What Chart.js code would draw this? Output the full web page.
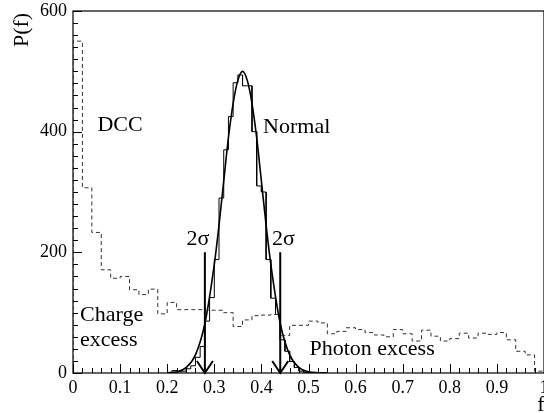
<!DOCTYPE html>
<html><head><meta charset="utf-8">
<script src="https://cdn.jsdelivr.net/npm/chart.js@4/dist/chart.umd.min.js"></script>
<style>html,body{margin:0;padding:0;background:#fff;overflow:hidden}#wrap{width:544px;height:413px;position:relative}</style>
</head><body><div id="wrap"><canvas id="c" width="544" height="413"></canvas></div>
<script>
// ---- data ----
const dccStart = 0.0;
const dccBinWidth = 0.02;
const dccCounts = [550, 307, 233, 171, 157, 160, 138, 130, 139, 98,
                   117, 105, 105, 105, 104, 104, 100, 77, 88, 95,
                   96, 97, 62, 79, 79, 86, 83, 65, 69, 75,
                   72, 67, 63, 60, 72, 65, 53, 71, 61, 53,
                   57, 66, 58, 66, 64, 67, 55, 36, 30, 3];
const normalStart = 0.21;
const normalBinWidth = 0.01;
const normalCounts = [4, 2, 3, 7, 12, 26, 44, 86, 125, 188,
                      290, 370, 425, 481, 494, 476, 476, 400, 310, 300,
                      188, 124, 97, 55, 36, 19, 9, 3, 1];
const fitF = [0.20, 0.22, 0.24, 0.26, 0.28, 0.30, 0.31, 0.32, 0.33, 0.34, 0.35, 0.36,
              0.37, 0.38, 0.39, 0.40, 0.41, 0.42, 0.44, 0.46, 0.48, 0.50, 0.52, 0.54];
const fitP = [0.3, 2, 9, 30, 82, 180, 245, 318, 390, 447, 485, 500,
              485, 447, 390, 318, 245, 180, 82, 30, 9, 2, 0.5, 0];
const xTickValues = [0, 0.1, 0.2, 0.3, 0.4, 0.5, 0.6, 0.7, 0.8, 0.9, 1];
const yTickValues = [0, 200, 400, 600];
const arrowF = [0.28, 0.44];
const arrowTop = 200;

// ---- annotation layout (data coordinates) ----
const notes = [
  {text: 'DCC', f: 0.10, p: 410, align: 'center'},
  {text: 'Normal', f: 0.475, p: 408, align: 'center'},
  {text: '2σ', f: 0.265, p: 222, align: 'center'},
  {text: '2σ', f: 0.447, p: 222, align: 'center'},
  {text: 'Charge', f: 0.015, p: 95, align: 'left'},
  {text: 'excess', f: 0.015, p: 55, align: 'left'},
  {text: 'Photon excess', f: 0.502, p: 40, align: 'left'}
];

function histPoints(start, w, counts) {
  const pts = [{x: start, y: 0}];
  counts.forEach((c, i) => {
    pts.push({x: start + i * w, y: c});
    pts.push({x: start + (i + 1) * w, y: c});
  });
  pts.push({x: start + counts.length * w, y: 0});
  return pts;
}

const SERIF = '"Liberation Serif", "DejaVu Serif", serif';

const decor = {
  id: 'decor',
  afterDatasetsDraw(chart) {
    const ctx = chart.ctx, xs = chart.scales.x, ys = chart.scales.y, a = chart.chartArea;
    ctx.save();
    // frame
    ctx.strokeStyle = '#000';
    ctx.lineWidth = 1.2;
    ctx.strokeRect(a.left, a.top, a.right - a.left, a.bottom - a.top);
    // inward ticks
    ctx.lineWidth = 1;
    ctx.beginPath();
    for (let i = 0; i <= 50; i++) {
      const v = i * 0.02;
      const px = Math.round(xs.getPixelForValue(v)) + 0.5;
      const len = (i % 5 === 0) ? 9 : 5;
      ctx.moveTo(px, a.bottom); ctx.lineTo(px, a.bottom - len);
    }
    for (let i = 0; i <= 30; i++) {
      const v = i * 20;
      const py = Math.round(ys.getPixelForValue(v)) + 0.5;
      const len = (i % 10 === 0) ? 9 : 5;
      ctx.moveTo(a.left, py); ctx.lineTo(a.left + len, py);
    }
    ctx.stroke();
    // arrows
    ctx.lineWidth = 2;
    arrowF.forEach(f => {
      const px = xs.getPixelForValue(f);
      const top = ys.getPixelForValue(arrowTop);
      const bot = ys.getPixelForValue(0);
      ctx.beginPath();
      ctx.moveTo(px, top); ctx.lineTo(px, bot);
      ctx.moveTo(px - 8, bot - 12); ctx.lineTo(px, bot); ctx.lineTo(px + 8, bot - 12);
      ctx.stroke();
    });
    // notes
    ctx.fillStyle = '#000';
    ctx.font = '22px ' + SERIF;
    ctx.textBaseline = 'middle';
    notes.forEach(n => {
      ctx.textAlign = n.align;
      ctx.fillText(n.text, xs.getPixelForValue(n.f), ys.getPixelForValue(n.p));
    });
    // axis titles
    ctx.textAlign = 'center';
    ctx.fillText('f', 541, 405);
    ctx.translate(22, 30);
    ctx.rotate(-Math.PI / 2);
    ctx.fillText('P(f)', 0, 0);
    ctx.restore();
  }
};

new Chart(document.getElementById('c'), {
  type: 'line',
  data: {
    datasets: [
      {label: 'DCC', data: histPoints(dccStart, dccBinWidth, dccCounts),
       borderColor: '#333', borderWidth: 1, borderDash: [4, 3], pointRadius: 0, tension: 0, fill: false},
      {label: 'Normal', data: histPoints(normalStart, normalBinWidth, normalCounts),
       borderColor: '#000', borderWidth: 1, pointRadius: 0, tension: 0, fill: false},
      {label: 'Fit', data: fitF.map((f, i) => ({x: f, y: fitP[i]})),
       borderColor: '#000', borderWidth: 1.6, pointRadius: 0, cubicInterpolationMode: 'monotone', fill: false}
    ]
  },
  options: {
    responsive: false,
    animation: false,
    devicePixelRatio: 1,
    layout: {padding: {top: 11, left: 0, right: -1, bottom: 0}},
    plugins: {legend: {display: false}, tooltip: {enabled: false}},
    scales: {
      x: {
        type: 'linear', min: 0, max: 1,
        grid: {display: false, drawTicks: false},
        border: {display: false},
        afterBuildTicks: s => { s.ticks = xTickValues.map(v => ({value: v})); },
        afterFit: s => { s.height = 40; s.paddingLeft = 0; s.paddingRight = 0; },
        ticks: {
          color: '#000', padding: 4, maxRotation: 0, autoSkip: false,
          font: {family: SERIF, size: 18},
          callback: v => (v === 0 ? '0' : v === 1 ? '1' : v.toFixed(1))
        }
      },
      y: {
        type: 'linear', min: 0, max: 600,
        grid: {display: false, drawTicks: false},
        border: {display: false},
        afterBuildTicks: s => { s.ticks = yTickValues.map(v => ({value: v})); },
        afterFit: s => { s.width = 73; s.paddingTop = 0; s.paddingBottom = 0; },
        ticks: {
          color: '#000', padding: 6,
          font: {family: SERIF, size: 18},
          callback: v => String(v)
        }
      }
    }
  },
  plugins: [decor]
});
</script></body></html>
